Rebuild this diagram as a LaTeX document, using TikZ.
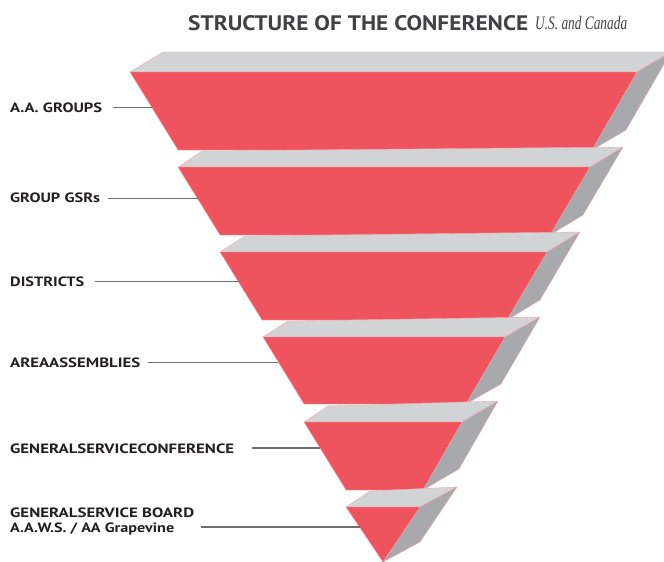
\documentclass[tikz,border=0pt]{standalone}
\usepackage{fontspec}
\usepackage{graphicx}
\newfontfamily\labfont{PT Sans}
\newfontfamily\subfont{Liberation Serif}
\definecolor{slabred}{HTML}{EF535D}
\definecolor{topgray}{HTML}{D1D3D4}
\definecolor{sidegray}{HTML}{A7A9AC}
\definecolor{edgepink}{HTML}{F1A9AD}
\definecolor{labtext}{HTML}{231F20}
\definecolor{titlegray}{HTML}{414042}
\definecolor{leadgray}{HTML}{6D6E71}
\newcommand\drawslab[9]{%
  \path[topface] (#1,#5) -- #7 -- (#8,#9) -- (#3,#5) -- cycle;
  \path[sideface] (#3,#5) -- (#8,#9) -- ({#8+#4-#3},{#9+#6-#5}) -- (#4,#6) -- cycle;
  \path[frontface] (#1,#5) -- (#3,#5) -- (#4,#6) -- (#2,#6) -- cycle;}
\begin{document}
\begin{tikzpicture}[x=1pt,y=-1pt,
  frontface/.style={fill=slabred,draw=edgepink,line width=0.4pt,line join=round},
  topface/.style={fill=topgray,draw=edgepink,line width=0.4pt,line join=round},
  sideface/.style={fill=sidegray,draw=edgepink,line width=0.4pt,line join=round},
  lab/.style={font=\labfont\bfseries\fontsize{13.5}{15}\selectfont,text=labtext,inner sep=0pt,anchor=base west},
  titlefont/.style={font=\labfont\bfseries\fontsize{21}{24}\selectfont,text=titlegray,inner sep=0pt,anchor=base west},
  titleit/.style={font=\subfont\itshape\fontsize{19}{21}\selectfont,text=titlegray,inner sep=0pt,anchor=base west},
  leader/.style={draw=leadgray,line width=1.5pt}]
\useasboundingbox (0,0) rectangle (664,562);
\clip (0,0) rectangle (664,562);
% slabs: Lt, Lb, Rt, Rb, yt, yb, (back-left), back-right x, back-right y
\drawslab{130}{178}{637}{592}{72}{150}{(163,52)}{671}{52}
\drawslab{178}{220}{590}{550}{167}{235}{(202,151)}{623}{147}
\drawslab{220}{262}{547}{507}{252}{320}{(245,236)}{580}{232}
\drawslab{263}{304}{505}{466}{337}{404}{(288,321)}{540}{317}
\drawslab{304}{346}{462}{423}{422}{490}{(328,406)}{498}{401}
\drawslab{346}{383}{420}{383}{507}{562}{(370,491)}{457}{487}
% title
\node[titlefont] (title) at (188,30) {\resizebox{340pt}{\height}{STRUCTURE OF THE CONFERENCE}};
\node[titleit] (subtitle) at (535,30) {\resizebox{92pt}{\height}{U.S. and Canada}};
% leader end points on the slabs
\coordinate (e1) at (152,107.7);
\coordinate (e2) at (197.8,198.5);
\coordinate (e3) at (238.5,281.7);
\coordinate (e4) at (278.3,362.5);
\coordinate (e5) at (320,448);
\coordinate (e6) at (360,527);
% labels
\node[lab] (lab1) at (10,112.7) {\resizebox{92pt}{\height}{A.A. GROUPS}};
\node[lab] (lab2) at (10,202.6) {\resizebox{90pt}{\height}{GROUP GSRs}};
\node[lab] (lab3) at (10,286.5) {\resizebox{74pt}{\height}{DISTRICTS}};
\node[lab] (lab4) at (10,367.2) {\resizebox{130pt}{\height}{AREAASSEMBLIES}};
\node[lab] (lab5) at (10,453.5) {\resizebox{224pt}{\height}{GENERALSERVICECONFERENCE}};
\node[lab] (lab6) at (10,517.6) {\resizebox{184pt}{\height}{GENERALSERVICE BOARD}};
\node[lab] (lab6b) at (10,532.6) {\resizebox{164pt}{\height}{A.A.W.S. / AA Grapevine}};
% leaders
\draw[leader] ([xshift=11pt]lab1.east |- e1) -- (e1);
\draw[leader] ([xshift=8pt]lab2.east |- e2) -- (e2);
\draw[leader] ([xshift=11pt]lab3.east |- e3) -- (e3);
\draw[leader] ([xshift=8pt]lab4.east |- e4) -- (e4);
\draw[leader] ([xshift=18pt]lab5.east |- e5) -- (e5);
\draw[leader] ([xshift=7pt]lab6.east |- e6) -- (e6);
\end{tikzpicture}
\end{document}
